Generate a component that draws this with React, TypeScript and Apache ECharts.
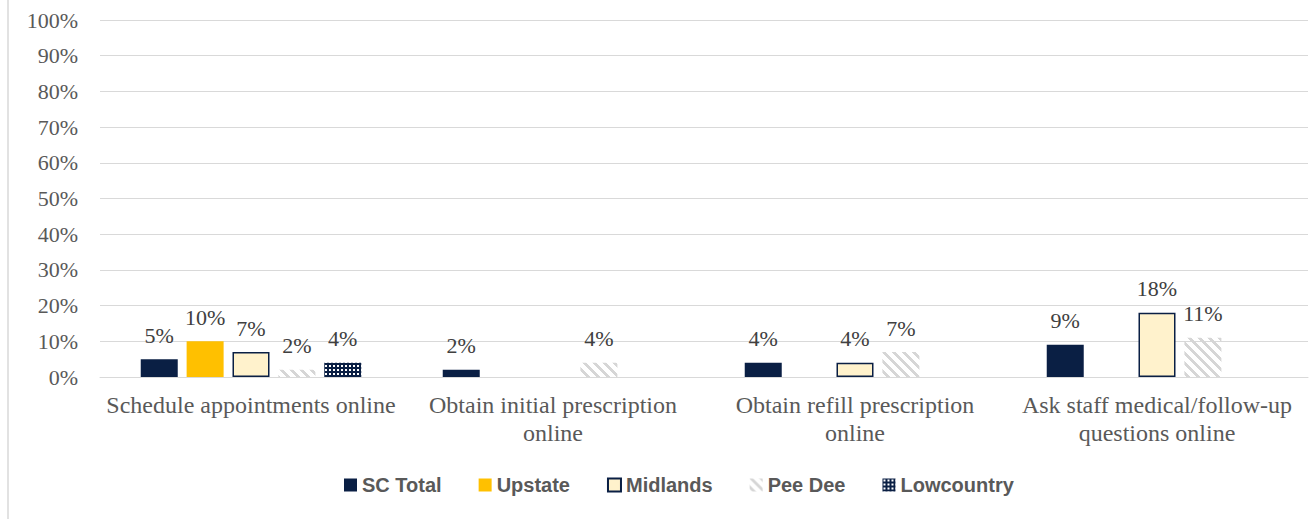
import React, { useEffect, useRef } from "react";
import * as echarts from "echarts";

const categories = [
  "Schedule appointments online",
  "Obtain initial prescription\nonline",
  "Obtain refill prescription\nonline",
  "Ask staff medical/follow-up\nquestions online",
];
const seriesNames = ["SC Total", "Upstate", "Midlands", "Pee Dee", "Lowcountry"];
const scTotal = [5, 2, 4, 9];
const upstate = [10, null, null, null];
const midlands = [7, null, 4, 18];
const peeDee = [2, 4, 7, 11];
const lowcountry = [4, null, null, null];
const yTicks = { min: 0, max: 100, interval: 10 };

const NAVY = "#0a1f44";

function stripePattern() {
  const size = 10;
  const c = document.createElement("canvas");
  c.width = size;
  c.height = size;
  const ctx = c.getContext("2d")!;
  ctx.fillStyle = "#d6d6d6";
  for (let y = 0; y < size; y++) {
    for (let x = 0; x < size; x++) {
      if ((((x - y) % size) + size) % size < 4) ctx.fillRect(x, y, 1, 1);
    }
  }
  return { image: c, repeat: "repeat", imageWidth: size, imageHeight: size };
}

function gridPattern() {
  const size = 4;
  const c = document.createElement("canvas");
  c.width = size;
  c.height = size;
  const ctx = c.getContext("2d")!;
  ctx.fillStyle = NAVY;
  ctx.fillRect(0, 0, size, size);
  ctx.fillStyle = "#ffffff";
  ctx.fillRect(1, 1, 2, 2);
  return { image: c, repeat: "repeat", imageWidth: size, imageHeight: size };
}

export default function App() {
  const ref = useRef<HTMLDivElement>(null);
  useEffect(() => {
    const chart = echarts.init(ref.current!, null, { renderer: "svg" });
    const label = {
      show: true,
      position: "top",
      distance: 13,
      formatter: "{c}%",
      fontFamily: "'Liberation Serif', serif",
      fontSize: 22,
      color: "#404040",
    };
    const styles: any[] = [
      { color: NAVY },
      { color: "#FFC000" },
      { color: "#FFF2CC", borderColor: NAVY, borderWidth: 1.5 },
      { color: stripePattern() },
      { color: gridPattern() },
    ];
    const data = [scTotal, upstate, midlands, peeDee, lowcountry];
    chart.setOption({
      animation: false,
      backgroundColor: "#ffffff",
      grid: { left: 100, right: 3, top: 20, bottom: 142 },
      legend: {
        left: 339,
        top: 470,
        itemWidth: 13,
        itemHeight: 13,
        itemGap: 37,
        icon: "rect",
        textStyle: {
          fontFamily: "'Liberation Sans', sans-serif",
          fontWeight: "bold",
          fontSize: 20,
          color: "#595959",
        },
        data: seriesNames,
      },
      xAxis: {
        type: "category",
        data: categories,
        axisLine: { lineStyle: { color: "#d9d9d9", width: 1 } },
        axisTick: { show: false },
        axisLabel: {
          interval: 0,
          margin: 14,
          fontFamily: "'Liberation Serif', serif",
          fontSize: 24,
          lineHeight: 28,
          color: "#595959",
        },
      },
      yAxis: {
        type: "value",
        min: yTicks.min,
        max: yTicks.max,
        interval: yTicks.interval,
        axisLine: { show: false },
        axisTick: { show: false },
        splitLine: { lineStyle: { color: "#d9d9d9", width: 1 } },
        axisLabel: {
          formatter: "{value}%",
          margin: 22,
          fontFamily: "'Liberation Serif', serif",
          fontSize: 22,
          color: "#595959",
        },
      },
      graphic: [
        {
          type: "line",
          shape: { x1: 8, y1: 0, x2: 8, y2: 519 },
          style: { stroke: "#d9d9d9", lineWidth: 1.5 },
        },
      ],
      series: seriesNames.map((name, i) => ({
        name,
        type: "bar",
        barWidth: 37,
        barGap: "24%",
        data: data[i],
        itemStyle: styles[i],
        label,
      })),
    });
    return () => chart.dispose();
  }, []);
  return (
    <div
      ref={ref}
      style={{ position: "fixed", left: 0, top: 0, width: 1311, height: 519 }}
    />
  );
}
